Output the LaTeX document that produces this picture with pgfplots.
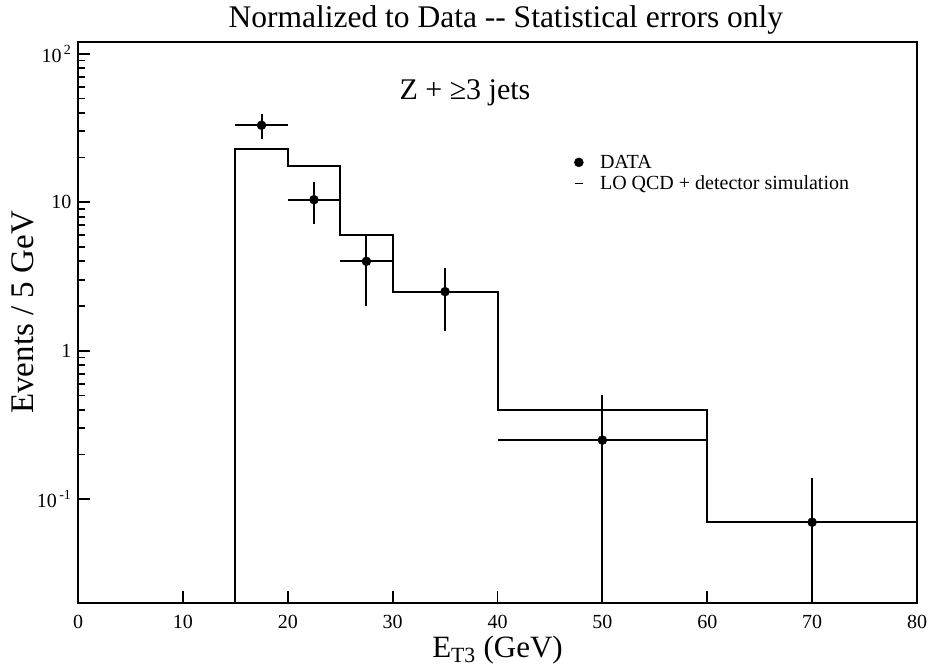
\documentclass[border=0pt]{standalone}
\usepackage{fontspec}
\setmainfont{Liberation Serif}
\usepackage{pgfplots}
\pgfplotsset{compat=1.18}
\begin{document}
\begin{tikzpicture}
\begin{axis}[
  name=ax,
  scale only axis,
  width=839pt, height=561pt,
  xmin=0, xmax=80,
  ymode=log, ymin=0.02, ymax=120,
  axis line style={line width=2.2pt},
  tick style={line width=1.8pt, black},
  tick align=inside,
  major tick length=12pt, minor tick length=7pt,
  xtick pos=bottom, ytick pos=left,
  xtick={0,10,...,80},
  minor x tick num=0,
  ytick={0.1,1,10,100},
  yticklabels={10\textsuperscript{\,-1},1,10,10\textsuperscript{\,2}},
  /pgf/number format/assume math mode=true,
  tick label style={font=\fontsize{20}{22}\selectfont},
  xticklabel style={anchor=base, yshift=-25pt},
  yticklabel style={xshift=-3pt},
  xlabel={E\textsubscript{T3} (GeV)},
  ylabel={Events / 5 GeV},
  xlabel style={font=\fontsize{31}{34}\selectfont, at={(axis description cs:0.5,0)}, anchor=base, yshift=-54pt},
  ylabel style={font=\fontsize{33}{36}\selectfont, at={(axis description cs:-0.0656,0.518)}, anchor=center},
  title={Normalized to Data -{}- Statistical errors only},
  title style={font=\fontsize{31.5}{34}\selectfont, at={(axis description cs:0.51,1)}, anchor=base, yshift=8pt},
  legend style={at={(axis description cs:0.587,0.806)}, anchor=north west, draw=none, fill=none,
    font=\fontsize{20}{22}\selectfont, row sep=2pt,
    /tikz/every odd column/.append style={column sep=14pt}},
  legend cell align=left,
]
\addplot[const plot mark left, line width=2pt, black, forget plot]
  coordinates {(15,0.001) (15,23) (20,17.5) (25,6.0) (30,2.5) (40,0.4) (60,0.07) (80,0.07)};
\addplot[only marks, mark=*, mark size=4.5pt, black,
  error bars/.cd, x dir=both, x explicit, y dir=both, y explicit,
  error mark=none, error bar style={line width=2pt}]
  coordinates {
  (17.5,33) += (2.5,6) -= (2.5,6.3)
  (22.5,10.4) += (2.5,3.3) -= (2.5,3.3)
  (27.5,4) += (2.5,2) -= (2.5,2)
  (35,2.5) += (5,1.1) -= (5,1.15)
  (50,0.25) += (10,0.25) -= (10,0.2499)
  (70,0.07) += (10,0.07) -= (10,0.0699)
  };
\addlegendentry{DATA}
\addlegendimage{line width=2pt, black, legend image code/.code={\draw[line width=1.8pt] (0.15cm,0cm) -- (0.45cm,0cm);}}
\addlegendentry{LO QCD + detector simulation}
\node[font=\fontsize{30}{34}\selectfont, anchor=base] at (axis cs:36.9,48.9) {Z + ≥3 jets};
\end{axis}
\pgfresetboundingbox
\path (ax.south west) +(-78pt,-64pt) (ax.north east) +(12pt,42pt);
\end{tikzpicture}
\end{document}
